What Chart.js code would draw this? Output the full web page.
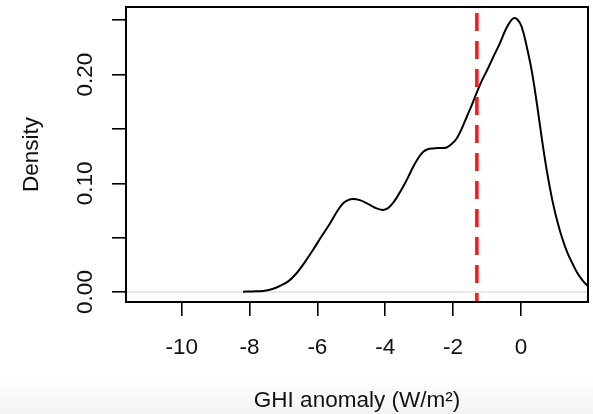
<!DOCTYPE html>
<html>
<head>
<meta charset="utf-8">
<script src="https://cdn.jsdelivr.net/npm/chart.js@4"></script>
<style>
  html, body {
    margin: 0;
    padding: 0;
  }
  body {
    width: 593px;
    height: 414px;
    background: linear-gradient(to bottom, #ffffff 0px, #ffffff 378px, #f3f3f3 414px);
    overflow: hidden;
  }
  #wrap {
    position: relative;
    width: 593px;
    height: 414px;
  }
</style>
</head>
<body>
<div id="wrap"><canvas id="chart"></canvas></div>
<script>
// ============================================
// DATA
// ============================================

// kernel density curve: x = GHI anomaly (W/m²), y = density
const densityX = [
    -8.19, -7.9, -7.6, -7.35, -7.11, -6.85, -6.62, -6.38, -6.13, -5.88,
    -5.63, -5.42, -5.24, -5.08, -4.95, -4.75, -4.55, -4.3, -4.08, -3.93,
    -3.77, -3.62, -3.47, -3.32, -3.18, -3.03, -2.88, -2.73, -2.59, -2.4,
    -2.19, -2.05, -1.9, -1.75, -1.6, -1.45, -1.31, -1.16, -1.0, -0.82,
    -0.62, -0.45, -0.32, -0.21, -0.1, 0.02, 0.17, 0.32, 0.47, 0.62,
    0.77, 0.92, 1.07, 1.22, 1.37, 1.52, 1.67, 1.82, 1.94, 1.98
];
const densityY = [
    0.0003, 0.0005, 0.001, 0.0025, 0.0055, 0.010, 0.017, 0.027, 0.0387, 0.051,
    0.063, 0.074, 0.0817, 0.0848, 0.0856, 0.0845, 0.0817, 0.0775, 0.0755, 0.0770,
    0.0820, 0.0890, 0.097, 0.106, 0.115, 0.123, 0.129, 0.1315, 0.132, 0.1325,
    0.133, 0.136, 0.141, 0.150, 0.161, 0.172, 0.183, 0.194, 0.204, 0.216,
    0.229, 0.2415, 0.2485, 0.252, 0.2505, 0.244, 0.2257, 0.203, 0.173, 0.140,
    0.110, 0.085, 0.065, 0.049, 0.036, 0.026, 0.017, 0.0105, 0.0064, 0.0055
];

// vertical reference line (mean anomaly)
const refLineX = -1.3;

// axis ranges and ticks
const xRange = [-11.64, 1.975];
const yRange = [-0.0092, 0.2622];
const xTicks = [-10, -8, -6, -4, -2, 0];
const xTickLabels = ['-10', '-8', '-6', '-4', '-2', '0'];
const yTicks = [0, 0.05, 0.10, 0.15, 0.20, 0.25];
const yTickLabels = ['0.00', '', '0.10', '', '0.20', ''];

const xTitle = 'GHI anomaly (W/m²)';
const yTitle = 'Density';

// ============================================
// CHART
// ============================================

const FONT = '22.5px "Liberation Sans", Arial, Helvetica, sans-serif';
const TEXT_COLOR = '#111111';

const curvePoints = densityX.map((x, i) => ({ x: x, y: densityY[i] }));

// R-style box, tick labels and axis titles
const rAxesPlugin = {
    id: 'rAxes',
    afterDraw(chart) {
        const ctx = chart.ctx;
        const area = chart.chartArea;
        const xScale = chart.scales.x;
        const yScale = chart.scales.y;

        ctx.save();

        // box around plot region
        ctx.strokeStyle = '#000000';
        ctx.lineWidth = 2;
        ctx.strokeRect(area.left, area.top, area.right - area.left, area.bottom - area.top);

        ctx.fillStyle = TEXT_COLOR;
        ctx.font = FONT;

        // x tick labels
        ctx.textAlign = 'center';
        ctx.textBaseline = 'alphabetic';
        xTicks.forEach((v, i) => {
            ctx.fillText(xTickLabels[i], xScale.getPixelForValue(v), 354);
        });

        // y tick labels (rotated, like R's default las=0)
        yTicks.forEach((v, i) => {
            if (!yTickLabels[i]) return;
            ctx.save();
            ctx.translate(92, yScale.getPixelForValue(v));
            ctx.rotate(-Math.PI / 2);
            ctx.fillText(yTickLabels[i], 0, 0);
            ctx.restore();
        });

        // axis titles
        ctx.fillText(xTitle, (area.left + area.right) / 2, 407);

        ctx.save();
        ctx.translate(38, (area.top + area.bottom) / 2);
        ctx.rotate(-Math.PI / 2);
        ctx.fillText(yTitle, 0, 0);
        ctx.restore();

        ctx.restore();
    }
};

const ctx = document.getElementById('chart').getContext('2d');

window.densityChart = new Chart(ctx, {
    type: 'scatter',
    data: {
        datasets: [
            {
                // light grey zero line
                data: [{ x: xRange[0], y: 0 }, { x: xRange[1], y: 0 }],
                showLine: true,
                borderColor: '#e2e2e2',
                borderWidth: 1.5,
                pointRadius: 0,
                order: 3
            },
            {
                data: curvePoints,
                showLine: true,
                borderColor: '#000000',
                borderWidth: 2,
                pointRadius: 0,
                tension: 0.4,
                order: 2
            },
            {
                data: [{ x: refLineX, y: yRange[1] }, { x: refLineX, y: yRange[0] }],
                showLine: true,
                borderColor: '#f51d1d',
                borderWidth: 3.6,
                borderDash: [18, 10],
                borderDashOffset: 22,
                pointRadius: 0,
                order: 1
            }
        ]
    },
    options: {
        responsive: true,
        maintainAspectRatio: false,
        animation: false,
        events: [],
        layout: {
            padding: { top: 7, right: 5, left: 0, bottom: 0 }
        },
        plugins: {
            legend: { display: false },
            tooltip: { enabled: false }
        },
        scales: {
            x: {
                type: 'linear',
                min: xRange[0],
                max: xRange[1],
                afterBuildTicks: (scale) => {
                    scale.ticks = xTicks.map(v => ({ value: v }));
                },
                afterFit: (scale) => {
                    scale.height = 112;
                },
                ticks: { display: false },
                border: { display: false },
                grid: {
                    drawOnChartArea: false,
                    drawTicks: true,
                    tickLength: 14,
                    color: '#000000',
                    lineWidth: 1.6
                }
            },
            y: {
                type: 'linear',
                min: yRange[0],
                max: yRange[1],
                afterBuildTicks: (scale) => {
                    scale.ticks = yTicks.map(v => ({ value: v }));
                },
                afterFit: (scale) => {
                    scale.width = 126;
                },
                ticks: { display: false },
                border: { display: false },
                grid: {
                    drawOnChartArea: false,
                    drawTicks: true,
                    tickLength: 14,
                    color: '#000000',
                    lineWidth: 1.6
                }
            }
        }
    },
    plugins: [rAxesPlugin]
});
</script>
</body>
</html>
